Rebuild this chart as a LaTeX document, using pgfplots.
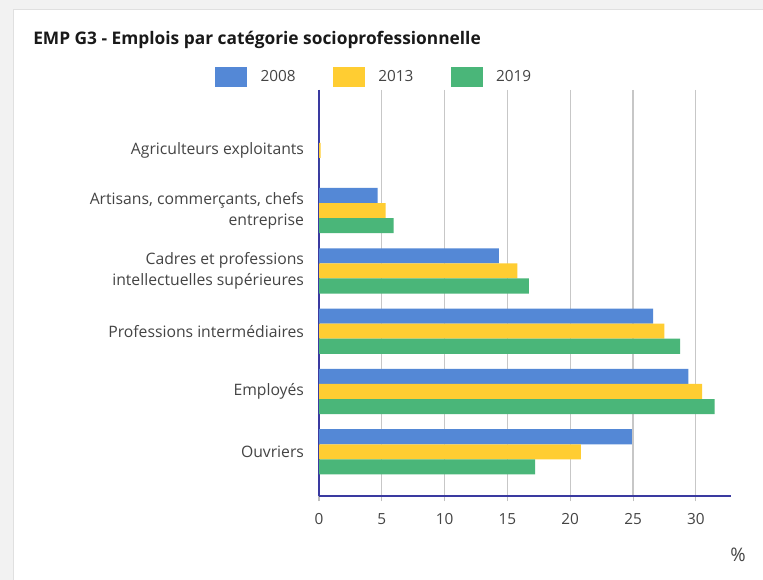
\documentclass[border=0pt]{standalone}
\usepackage{fontspec}
\setmainfont{Open Sans}
\usepackage{pgfplots}
\pgfplotsset{compat=1.18}
\definecolor{cblue}{RGB}{84,136,214}
\definecolor{cyellow}{RGB}{255,205,50}
\definecolor{cgreen}{RGB}{74,182,121}
\definecolor{navy}{RGB}{58,58,160}
\definecolor{bggray}{RGB}{242,242,242}
\definecolor{cardline}{RGB}{224,224,224}
\definecolor{txt}{RGB}{68,68,68}
\begin{document}
\begin{tikzpicture}
\useasboundingbox (0,0) rectangle (572.25pt,-435pt);
\fill[bggray] (0,0) rectangle (572.25pt,-435pt);
\fill[white] (9.75pt,-6.75pt) rectangle (572.25pt,-435pt);
\draw[cardline,line width=0.6pt] (9.75pt,-435pt) -- (9.75pt,-6.75pt) -- (572.25pt,-6.75pt);
\node[anchor=west,font=\fontsize{13}{15}\selectfont\bfseries,text=black!90,inner sep=0pt] at (24.75pt,-30pt) {EMP G3 - Emplois par catégorie socioprofessionnelle};
\node[font=\fontsize{14}{16}\selectfont,text=txt,inner sep=0pt] at (553.5pt,-416.25pt) {\%};
\begin{axis}[
  at={(239.25pt,-372pt)}, anchor=south west,
  width=309pt, height=304.5pt, scale only axis,
  xmin=0, xmax=32.8, ymin=-1, ymax=5.733,
  y dir=reverse,
  xbar, bar width=0.25,
  axis x line=bottom, axis y line=left,
  axis line style={navy,line width=1pt,-},
  xtick={0,5,...,30},
  ytick={0,1,2,3,4,5},
  yticklabels={Agriculteurs exploitants,{Artisans, commerçants, chefs\\entreprise},{Cadres et professions\\intellectuelles supérieures},Professions intermédiaires,Employés,Ouvriers},
  yticklabel style={align=right,font=\fontsize{11.8}{16}\selectfont,text=txt,xshift=-4pt},
  xticklabel style={font=\fontsize{11.5}{13}\selectfont,text=txt,yshift=-6pt},
  /pgf/number format/assume math mode=true,
  ytick style={draw=none},
  xtick style={draw=black!25,line width=0.8pt},
  tick align=outside, major tick length=3.75pt,
  xmajorgrids, grid style={black!22,line width=0.9pt},
  legend style={at={(axis description cs:0.1347,1.032)},anchor=center,draw=none,fill=none,
    legend columns=3,font=\fontsize{11.5}{13}\selectfont,text=txt,
    /tikz/every odd column/.append style={column sep=8pt},
    /tikz/every even column/.append style={column sep=26pt}},
  legend image code/.code={\fill[#1,draw=none] (0pt,-7.5pt) rectangle (24pt,7.5pt);},
  every axis plot/.append style={draw=none},
]
\addplot[fill=cblue, bar shift=-0.25] coordinates {(0,0) (4.67,1) (14.32,2) (26.6,3) (29.4,4) (24.9,5)};
\addplot[fill=cyellow, bar shift=0] coordinates {(0.12,0) (5.3,1) (15.8,2) (27.5,3) (30.5,4) (20.85,5)};
\addplot[fill=cgreen, bar shift=0.25] coordinates {(0,0) (5.94,1) (16.7,2) (28.75,3) (31.5,4) (17.2,5)};
\legend{2008,2013,2019}
\end{axis}
\end{tikzpicture}
\end{document}
